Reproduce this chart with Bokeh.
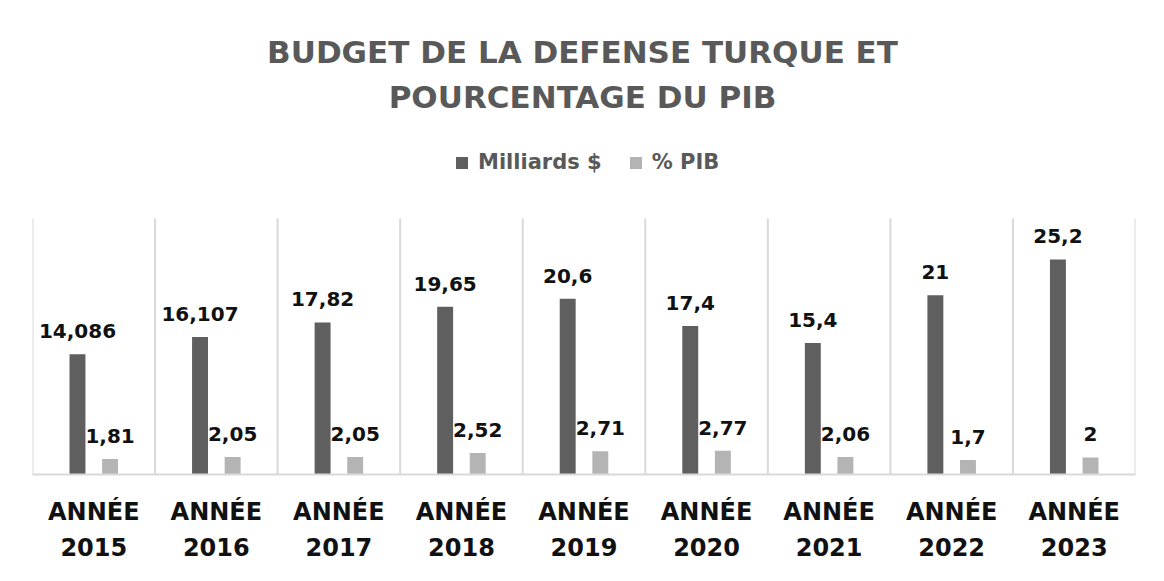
import numpy as np
from bokeh.plotting import figure
from bokeh.models import (ColumnDataSource, FixedTicker, LabelSet, Label, Legend,
                          LegendItem, Range1d)
from bokeh.transform import dodge
from bokeh.core.properties import value
from bokeh.embed import file_html
from bokeh.resources import INLINE

# ---- data ----
years = ["2015", "2016", "2017", "2018", "2019", "2020", "2021", "2022", "2023"]
budget = [14.086, 16.107, 17.82, 19.65, 20.6, 17.4, 15.4, 21, 25.2]
pib = [1.81, 2.05, 2.05, 2.52, 2.71, 2.77, 2.06, 1.7, 2]
budget_labels = ["14,086", "16,107", "17,82", "19,65", "20,6", "17,4", "15,4", "21", "25,2"]
pib_labels = ["1,81", "2,05", "2,05", "2,52", "2,71", "2,77", "2,06", "1,7", "2"]
tick_labels = ["ANNÉE\n" + y for y in years]
title_lines = ["BUDGET DE LA DEFENSE TURQUE ET", "POURCENTAGE DU PIB"]
series_names = ["Milliards $", "% PIB"]
y_max = 30

FONT = "DejaVu Sans"
DARK = "#5f5f5f"
LIGHT = "#b4b4b4"
GRID = "#d9d9d9"

W, H = 1148, 565
B_LEFT, B_RIGHT, B_BOTTOM = 32, 13, 91
PLOT_TOP = 218  # pixel where y_max sits
frame_h = H - B_BOTTOM
y_top = y_max * frame_h / (frame_h - PLOT_TOP)

centers = np.arange(len(years)) + 0.5
bounds = np.arange(len(years) + 1)
src = ColumnDataSource(dict(x=centers, budget=budget, pib=pib,
                            blab=budget_labels, plab=pib_labels))

p = figure(width=W, height=H, output_backend="svg", toolbar_location=None,
           x_range=Range1d(0, len(years)), y_range=Range1d(0, y_top),
           min_border_left=B_LEFT, min_border_right=B_RIGHT, min_border_top=0,
           min_border_bottom=B_BOTTOM)
p.outline_line_color = None
p.background_fill_color = "white"
p.border_fill_color = "white"
p.xgrid.grid_line_color = None
p.ygrid.grid_line_color = None
p.yaxis.visible = False

# category separators
p.segment(x0=bounds, y0=0, x1=bounds, y1=y_max, line_color=GRID, line_width=2)

off = 0.133
w = 0.13
r1 = p.vbar(x=dodge("x", -off), top="budget", width=w, bottom=0, source=src,
            fill_color=DARK, line_color=None)
r2 = p.vbar(x=dodge("x", off), top="pib", width=w, bottom=0, source=src,
            fill_color=LIGHT, line_color=None)

for col, lab, dx in (("budget", "blab", -off), ("pib", "plab", off)):
    ls = LabelSet(x=dodge("x", dx), y=col, text=lab, source=src,
                  text_align="center", text_baseline="alphabetic", y_offset=16,
                  text_font=value(FONT), text_font_size="20px",
                  text_font_style="bold", text_color="#111111")
    p.add_layout(ls)

xa = p.xaxis[0]
xa.ticker = FixedTicker(ticks=list(centers))
xa.major_label_overrides = {float(c): t for c, t in zip(centers, tick_labels)}
xa.major_tick_line_color = None
xa.minor_tick_line_color = None
xa.axis_line_color = GRID
xa.axis_line_width = 2
xa.major_label_text_font = FONT
xa.major_label_text_font_size = "24px"
xa.major_label_text_font_style = "bold"
xa.major_label_text_color = "#111111"
xa.major_label_text_line_height = 1.3
xa.major_label_standoff = 17

# title
for txt, yy in zip(title_lines, (423, 378)):
    p.add_layout(Label(x=550, y=yy, x_units="screen", y_units="screen", text=txt,
                       text_align="center", text_baseline="middle",
                       text_font=FONT, text_font_size="31px",
                       text_font_style="bold", text_color="#595959"))

legend = Legend(items=[LegendItem(label=series_names[0], renderers=[r1]),
                       LegendItem(label=series_names[1], renderers=[r2])],
                orientation="horizontal", location=(422, 300),
                glyph_width=15, glyph_height=15, label_standoff=9, spacing=26,
                padding=0, margin=0, border_line_color=None,
                background_fill_alpha=0,
                label_text_font=FONT, label_text_font_size="21px",
                label_text_font_style="bold", label_text_color="#595959")
p.add_layout(legend)

open("out.html", "w").write(file_html(p, INLINE))
